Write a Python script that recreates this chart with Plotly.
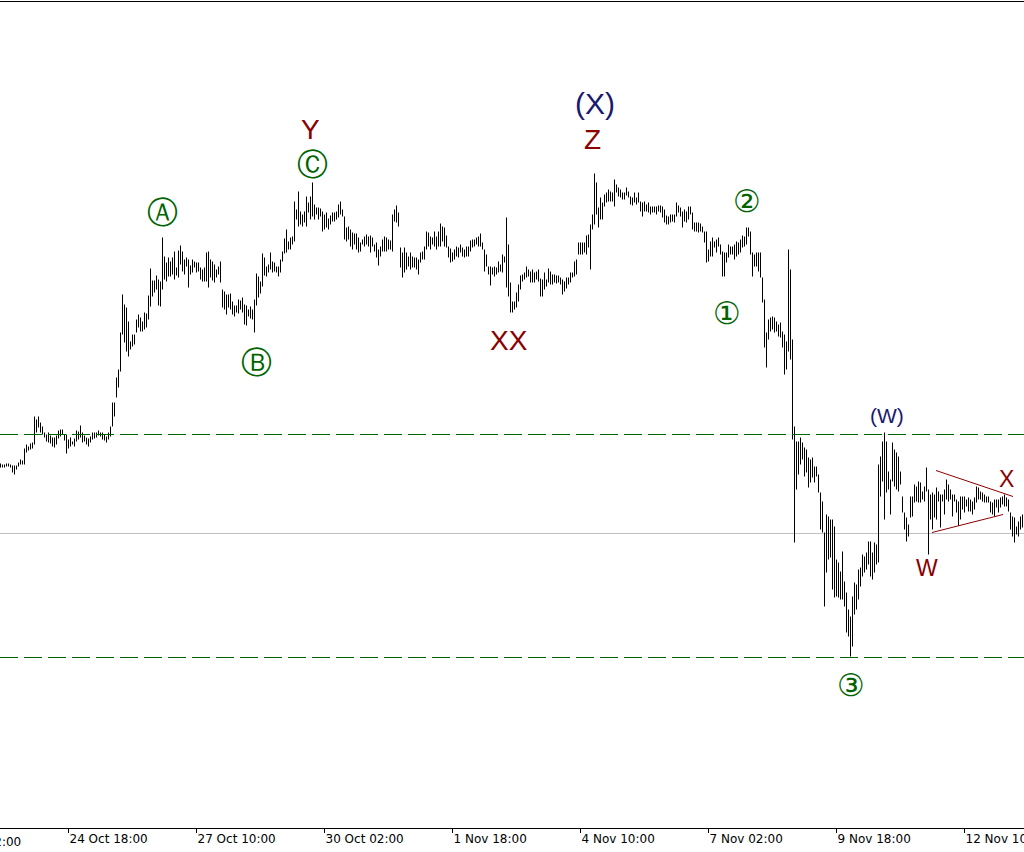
import pandas as pd
import plotly.graph_objects as go

# ---------------- data (hourly bars, price in chart units) ----------------
start_time = "2017-10-23 08:00"

high = [
    436, 435, 435, 436, 436, 435, 434, 434, 434, 437,
    440, 439, 451, 455, 453, 456, 457, 483, 480, 483,
    477, 473, 467, 465, 467, 464, 462, 462, 464, 469,
    470, 470, 465, 465, 460, 462, 458, 461, 469, 468,
    474, 467, 464, 462, 461, 463, 467, 467, 467, 469,
    467, 467, 465, 463, 467, 473, 497, 497, 522, 530,
    567, 605, 595, 592, 578, 558, 565, 565, 580, 585,
    582, 578, 587, 586, 604, 631, 619, 619, 624, 620,
    618, 662, 643, 637, 642, 638, 642, 648, 632, 649,
    654, 648, 640, 642, 640, 634, 640, 638, 637, 637,
    632, 630, 632, 647, 648, 640, 638, 635, 630, 633,
    638, 610, 608, 605, 605, 606, 598, 594, 594, 600,
    599, 602, 595, 594, 590, 593, 590, 600, 626, 623,
    618, 646, 642, 633, 635, 647, 638, 637, 633, 633,
    640, 648, 661, 670, 658, 662, 663, 698, 690, 708,
    688, 685, 688, 703, 697, 703, 717, 695, 692, 692,
    691, 688, 685, 687, 681, 684, 687, 687, 688, 695,
    698, 690, 683, 672, 673, 670, 667, 666, 666, 662,
    657, 660, 663, 665, 663, 664, 662, 655, 657, 650,
    653, 660, 663, 662, 660, 659, 685, 690, 694, 687,
    652, 647, 652, 647, 643, 647, 643, 642, 642, 640,
    647, 648, 653, 668, 667, 663, 662, 668, 663, 668,
    676, 673, 672, 664, 653, 651, 647, 650, 653, 652,
    655, 652, 650, 653, 653, 659, 660, 660, 662, 663,
    666, 657, 650, 645, 633, 633, 632, 633, 632, 638,
    635, 645, 643, 682, 655, 617, 598, 598, 607, 615,
    624, 625, 627, 633, 630, 628, 630, 627, 628, 630,
    621, 620, 627, 620, 631, 628, 625, 625, 624, 624,
    622, 620, 618, 622, 622, 627, 627, 638, 640, 657,
    657, 657, 657, 664, 665, 675, 685, 726, 717, 692,
    702, 697, 705, 707, 710, 708, 707, 720, 715, 712,
    710, 707, 707, 712, 708, 703, 702, 707, 702, 707,
    698, 697, 698, 695, 697, 693, 693, 693, 693, 694,
    694, 693, 690, 684, 683, 685, 685, 685, 697, 694,
    692, 688, 690, 688, 693, 693, 687, 677, 677, 677,
    676, 673, 668, 668, 650, 658, 662, 658, 660, 662,
    655, 648, 647, 647, 655, 653, 653, 655, 658, 657,
    660, 664, 663, 672, 672, 668, 647, 645, 647, 647,
    647, 622, 600, 567, 580, 582, 583, 582, 578, 575,
    577, 568, 565, 558, 650, 630, 560, 473, 458, 458,
    462, 457, 452, 450, 442, 440, 442, 433, 433, 425,
    407, 398, 367, 385, 383, 380, 380, 373, 340, 337,
    328, 348, 318, 307, 290, 283, 303, 317, 315, 330,
    332, 345, 343, 347, 358, 358, 347, 357, 355, 435,
    443, 458, 467, 458, 428, 420, 457, 450, 447, 443,
    428, 403, 387, 382, 375, 403, 403, 415, 413, 418,
    417, 408, 413, 432, 410, 405, 407, 405, 412, 408,
    405, 405, 410, 420, 415, 410, 405, 405, 400, 398,
    403, 403, 403, 400, 402, 400, 398, 402, 413, 412,
    408, 407, 405, 403, 403, 398, 397, 400, 400, 400,
    402, 403, 405, 402, 400, 387, 383, 382, 373, 378,
    383, 385,
]

low = [
    432, 432, 432, 433, 433, 432, 427, 425, 430, 433,
    435, 435, 435, 447, 449, 450, 451, 455, 467, 472,
    467, 465, 462, 458, 457, 456, 453, 452, 455, 461,
    463, 465, 459, 446, 451, 453, 455, 453, 458, 460,
    462, 457, 458, 455, 453, 457, 460, 461, 462, 464,
    463, 460, 459, 457, 460, 463, 473, 483, 502, 512,
    528, 565, 557, 548, 543, 550, 553, 555, 567, 572,
    568, 568, 570, 572, 580, 593, 603, 607, 610, 594,
    593, 610, 620, 618, 623, 623, 625, 620, 624, 622,
    635, 628, 625, 633, 612, 625, 627, 632, 627, 628,
    620, 618, 618, 618, 612, 622, 619, 617, 622, 625,
    617, 592, 590, 585, 592, 590, 585, 583, 587, 586,
    590, 587, 575, 574, 583, 581, 580, 567, 594, 602,
    606, 613, 624, 623, 627, 630, 627, 628, 627, 623,
    627, 638, 646, 647, 650, 650, 655, 658, 680, 673,
    675, 673, 677, 673, 687, 680, 683, 680, 685, 680,
    683, 668, 670, 672, 670, 675, 678, 678, 680, 682,
    685, 683, 660, 658, 660, 653, 650, 655, 650, 647,
    648, 655, 653, 655, 653, 647, 653, 648, 642, 634,
    643, 648, 648, 648, 650, 650, 648, 678, 677, 673,
    632, 622, 627, 630, 633, 630, 632, 632, 630, 625,
    637, 640, 640, 650, 653, 650, 655, 653, 650, 653,
    653, 658, 653, 652, 642, 637, 638, 640, 643, 642,
    647, 643, 642, 643, 643, 648, 652, 653, 655, 653,
    653, 650, 628, 633, 625, 614, 625, 623, 625, 627,
    628, 627, 637, 612, 603, 587, 587, 590, 592, 598,
    610, 618, 620, 622, 623, 617, 617, 617, 620, 618,
    603, 603, 610, 613, 617, 615, 615, 617, 616, 617,
    615, 605, 608, 611, 615, 617, 622, 623, 625, 645,
    645, 645, 647, 645, 652, 630, 670, 675, 685, 672,
    680, 680, 693, 697, 698, 698, 698, 693, 707, 703,
    702, 700, 700, 704, 702, 695, 694, 697, 695, 697,
    688, 683, 688, 688, 687, 685, 687, 687, 685, 688,
    687, 682, 677, 675, 675, 677, 678, 677, 683, 687,
    683, 672, 678, 677, 680, 685, 670, 668, 668, 667,
    668, 667, 657, 637, 638, 643, 643, 652, 647, 653,
    645, 623, 623, 637, 642, 645, 645, 640, 643, 645,
    647, 652, 653, 655, 663, 645, 623, 633, 633, 628,
    622, 597, 552, 532, 560, 568, 570, 567, 568, 563,
    562, 552, 525, 530, 548, 540, 460, 357, 410, 425,
    435, 440, 423, 427, 412, 417, 422, 417, 423, 407,
    370, 367, 293, 327, 340, 342, 310, 302, 303, 302,
    300, 300, 293, 267, 263, 243, 253, 285, 290, 300,
    313, 323, 327, 330, 335, 323, 320, 327, 335, 337,
    403, 418, 380, 407, 410, 385, 418, 413, 410, 408,
    415, 387, 370, 358, 363, 382, 383, 397, 398, 397,
    397, 400, 398, 408, 345, 380, 370, 382, 380, 398,
    372, 398, 385, 400, 398, 400, 383, 398, 387, 374,
    380, 390, 387, 393, 388, 388, 385, 390, 397, 400,
    400, 398, 397, 397, 397, 387, 385, 383, 392, 387,
    392, 395, 393, 393, 388, 370, 363, 357, 365, 363,
    370, 372,
]

assert len(high) == len(low)

tick_times = ["2017-10-22 02:00", "2017-10-24 18:00", "2017-10-27 10:00", "2017-10-30 02:00",
              "2017-11-01 18:00", "2017-11-04 10:00", "2017-11-07 02:00", "2017-11-09 18:00",
              "2017-11-12 10:00"]
tick_labels = ["22 Oct 02:00", "24 Oct 18:00", "27 Oct 10:00", "30 Oct 02:00", "1 Nov 18:00",
               "4 Nov 10:00", "7 Nov 02:00", "9 Nov 18:00", "12 Nov 10:00"]

green_levels = [465, 242]
bid_level = 366

tri_upper_time = ["2017-11-11 19:45", "2017-11-13 10:15"]
tri_upper_price = [429, 403]
tri_lower_time = ["2017-11-11 17:45", "2017-11-13 05:15"]
tri_lower_price = [367, 385]

wave_labels = ["(X)", "Z", "Y", "\u24b8", "\u24b6", "\u24b7", "XX", "\u2461", "\u2460", "\u2462", "(W)", "W", "X"]
label_bar = [297, 296, 155, 156, 81, 128, 254, 373, 363, 425, 443, 463, 503]
label_price = [796, 760, 770, 736, 688, 538, 559, 699, 587, 215, 484, 332, 421]
label_kind = ["navy", "red", "red", "green", "green", "green", "red", "green", "green", "green", "navy", "red", "red"]
label_size = [30, 28, 28, 31, 31, 31, 28, 31, 31, 31, 21, 23, 23]

# ---------------- figure ----------------
t0 = pd.Timestamp(start_time)
times = pd.date_range(t0, periods=len(high), freq="h")
x_range = [t0 - pd.Timedelta(minutes=15), t0 + pd.Timedelta(hours=len(high) - 1, minutes=45)]

xs, ys = [], []
for t, h, l in zip(times, high, low):
    xs += [t, t, None]
    ys += [l, h, None]

fig = go.Figure()
fig.add_trace(go.Scatter(x=xs, y=ys, mode="lines", line=dict(color="black", width=1),
                         hoverinfo="skip", connectgaps=False))
fig.add_trace(go.Scatter(x=tri_upper_time, y=tri_upper_price, mode="lines",
                         line=dict(color="#8b0000", width=1), hoverinfo="skip"))
fig.add_trace(go.Scatter(x=tri_lower_time, y=tri_lower_price, mode="lines",
                         line=dict(color="#8b0000", width=1), hoverinfo="skip"))

shapes = [dict(type="line", xref="paper", x0=0, x1=1, yref="y", y0=bid_level, y1=bid_level,
               line=dict(color="#c0c0c0", width=1), layer="below")]
for lvl in green_levels:
    shapes.append(dict(type="line", xref="paper", x0=0, x1=1, yref="y", y0=lvl, y1=lvl,
                       line=dict(color="#006400", width=1, dash="18px,6px")))

colors = {"navy": "#191970", "red": "#8b0000", "green": "#006400"}
annotations = []
for txt, b, p, k, s in zip(wave_labels, label_bar, label_price, label_kind, label_size):
    fam = "DejaVu Sans" if k == "green" else "Liberation Sans, Arial, sans-serif"
    annotations.append(dict(x=times[b], y=p, xref="x", yref="y", text=txt, showarrow=False,
                            xanchor="center", yanchor="middle",
                            font=dict(family=fam, size=s, color=colors[k])))

# clipped first tick label, placed through the axis scale
span = (x_range[1] - x_range[0])
first_px = (pd.Timestamp(tick_times[0]) - x_range[0]) / span
annotations.append(dict(x=first_px, y=0, xref="paper", yref="paper", text=tick_labels[0],
                        showarrow=False, xanchor="left", yanchor="top", yshift=-5,
                        font=dict(family="DejaVu Sans", size=12, color="black")))

fig.update_layout(
    width=1024, height=852,
    margin=dict(l=0, r=0, t=2, b=24, autoexpand=False),
    paper_bgcolor="white", plot_bgcolor="white",
    showlegend=False, hovermode=False,
    shapes=shapes, annotations=annotations,
    xaxis=dict(type="date", range=x_range, showgrid=False, zeroline=False, automargin=False,
               showline=True, mirror=True, linecolor="black", linewidth=1,
               ticks="outside", ticklen=4, tickcolor="black", tickwidth=1,
               tickvals=tick_times[1:], ticktext=tick_labels[1:],
               ticklabelposition="outside right", ticklabeloverflow="allow",
               tickfont=dict(family="DejaVu Sans", size=12, color="black")),
    yaxis=dict(range=[71.5, 897.5], visible=False, showgrid=False, zeroline=False, automargin=False),
)

fig.write_html("out.html", config={"displayModeBar": False},
               post_script="document.body.style.margin='0';document.body.style.padding='0';")
